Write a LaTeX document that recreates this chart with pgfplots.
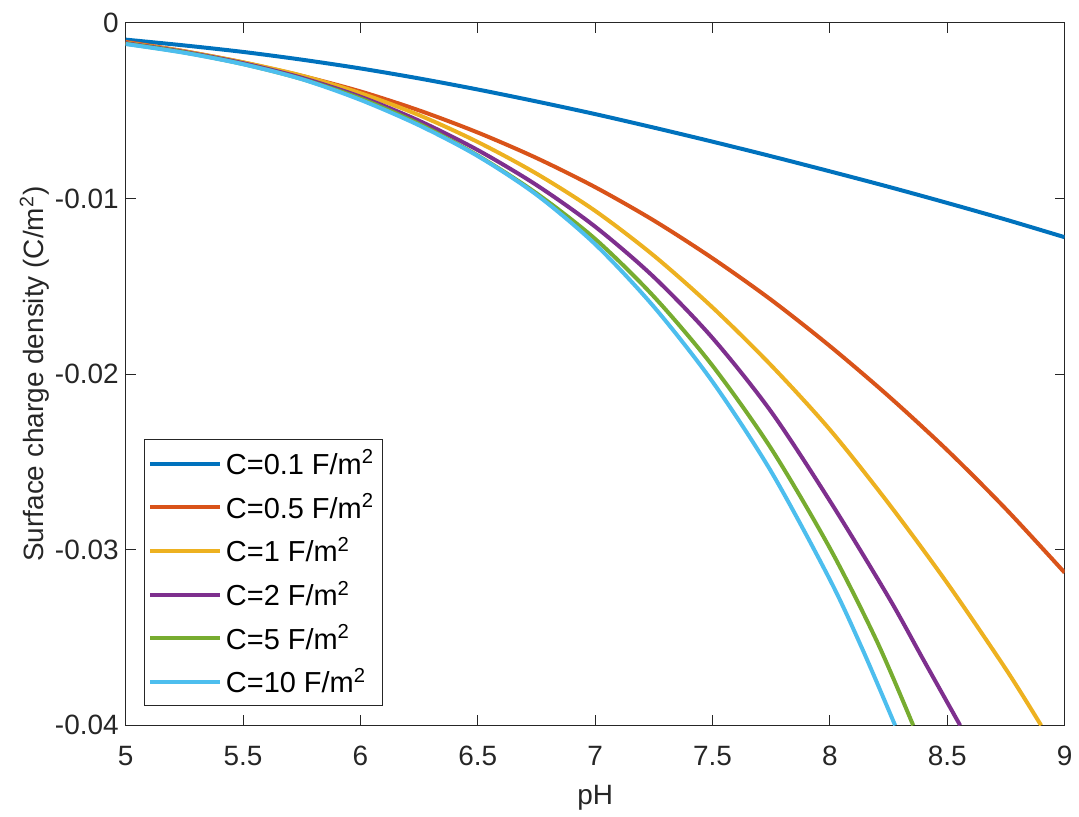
\documentclass[border=0pt]{standalone}
\usepackage{fontspec}
\setmainfont{Liberation Sans}
\usepackage{pgfplots}
\pgfplotsset{compat=1.18}
\definecolor{m1}{rgb}{0,0.447,0.741}
\definecolor{m2}{rgb}{0.85,0.325,0.098}
\definecolor{m3}{rgb}{0.929,0.694,0.125}
\definecolor{m4}{rgb}{0.494,0.184,0.556}
\definecolor{m5}{rgb}{0.466,0.674,0.188}
\definecolor{m6}{rgb}{0.301,0.745,0.933}
\definecolor{axgray}{rgb}{0.15,0.15,0.15}
\begin{document}
\begin{tikzpicture}
\begin{axis}[
  scale only axis,
  width=470.5pt, height=352pt,
  xmin=5, xmax=9, ymin=-0.04, ymax=0,
  xtick={5,5.5,6,6.5,7,7.5,8,8.5,9},
  xticklabels={5,5.5,6,6.5,7,7.5,8,8.5,9},
  ytick={-0.04,-0.03,-0.02,-0.01,0},
  yticklabels={-0.04,-0.03,-0.02,-0.01,0},
  scaled y ticks=false,
  xtick pos=both, ytick pos=both,
  tick align=inside,
  major tick length=5pt,
  tick style={axgray, line width=0.5pt},
  axis line style={axgray, line width=0.5pt},
  tick label style={font=\fontsize{14}{16}\selectfont, text=axgray},
  xticklabel style={yshift=-7pt},
  label style={font=\fontsize{14}{16}\selectfont, text=axgray},
  xlabel={pH},
  ylabel={Surface charge density (C/m\textsuperscript{2})},
  xlabel style={at={(axis description cs:0.5,-0.103)}, anchor=center},
  ylabel style={at={(axis description cs:-0.097,0.5)}, anchor=center},
  legend cell align=left,
  legend image code/.code={\draw[#1] (0pt,0pt) -- (35pt,0pt);},
  legend style={at={(axis description cs:0.0191,0.027)}, anchor=south west,
    draw=axgray, line width=0.5pt, font=\fontsize{14.5}{16}\selectfont,
    row sep=4.1pt, inner xsep=2pt, inner ysep=3pt},
  every axis plot/.append style={line width=2pt, smooth, tension=0.5},
]
\addplot[m1] coordinates {(5.0,-0.00095)(5.25,-0.00128)(5.5,-0.00165)(5.75,-0.00209)(6.0,-0.00259)(6.25,-0.00316)(6.5,-0.00379)(6.75,-0.00447)(7.0,-0.00519)(7.25,-0.00596)(7.5,-0.00676)(7.75,-0.00759)(8.0,-0.00845)(8.25,-0.00933)(8.5,-0.01025)(8.75,-0.01120)(9.0,-0.01220)};
\addlegendentry{C=0.1 F/m\textsuperscript{2}\hspace{1.5pt}}
\addplot[m2] coordinates {(5.0,-0.00108)(5.25,-0.00161)(5.5,-0.00225)(5.75,-0.00301)(6.0,-0.00390)(6.25,-0.00498)(6.5,-0.00624)(6.75,-0.00769)(7.0,-0.00935)(7.25,-0.01125)(7.5,-0.01340)(7.75,-0.01577)(8.0,-0.01840)(8.25,-0.02125)(8.5,-0.02433)(8.75,-0.02768)(9.0,-0.03130)};
\addlegendentry{C=0.5 F/m\textsuperscript{2}}
\addplot[m3] coordinates {(5.0,-0.00112)(5.25,-0.00162)(5.5,-0.00224)(5.75,-0.00300)(6.0,-0.00400)(6.25,-0.00525)(6.5,-0.00678)(6.75,-0.00858)(7.0,-0.01070)(7.25,-0.01325)(7.5,-0.01620)(7.75,-0.01950)(8.0,-0.02316)(8.25,-0.02736)(8.5,-0.03190)(8.75,-0.03680)(8.9,-0.04000)};
\addlegendentry{C=1 F/m\textsuperscript{2}}
\addplot[m4] coordinates {(5.0,-0.00115)(5.25,-0.00165)(5.5,-0.00229)(5.75,-0.00312)(6.0,-0.00420)(6.25,-0.00557)(6.5,-0.00724)(6.75,-0.00923)(7.0,-0.01160)(7.25,-0.01447)(7.5,-0.01794)(7.75,-0.02214)(8.0,-0.02722)(8.25,-0.03270)(8.4,-0.03630)(8.555,-0.04000)};
\addlegendentry{C=2 F/m\textsuperscript{2}}
\addplot[m5] coordinates {(5.0,-0.00118)(5.25,-0.00168)(5.5,-0.00234)(5.75,-0.00319)(6.0,-0.00430)(6.25,-0.00575)(6.5,-0.00755)(6.75,-0.00970)(7.0,-0.01230)(7.25,-0.01558)(7.5,-0.01952)(7.75,-0.02424)(8.0,-0.02991)(8.2,-0.03520)(8.355,-0.04000)};
\addlegendentry{C=5 F/m\textsuperscript{2}}
\addplot[m6] coordinates {(5.0,-0.00120)(5.25,-0.00170)(5.5,-0.00235)(5.75,-0.00320)(6.0,-0.00438)(6.25,-0.00583)(6.5,-0.00758)(6.75,-0.00978)(7.0,-0.01260)(7.25,-0.01616)(7.5,-0.02043)(7.75,-0.02555)(8.0,-0.03170)(8.14,-0.03570)(8.278,-0.04000)};
\addlegendentry{C=10 F/m\textsuperscript{2}}
\end{axis}
\path (current axis.south west) ++(-63pt,-42pt) rectangle ++(539.5pt,405.5pt);
\end{tikzpicture}
\end{document}
